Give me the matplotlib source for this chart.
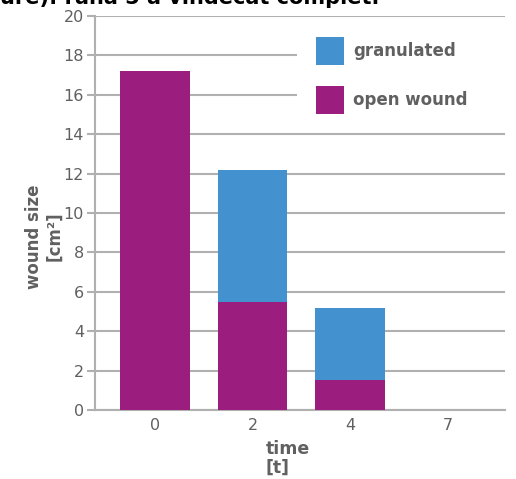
from matplotlib import pyplot as plt
from matplotlib.patches import Rectangle
import numpy as np

# wound size per time point
times = ["0", "2", "4", "7"]
open_wound = [17.2, 5.5, 1.5, 0.0]
granulated = [0.0, 6.7, 3.7, 0.0]
series_labels = ["granulated", "open wound"]

PURPLE = "#9b1e7e"
BLUE = "#4491d0"
GRID = "#b0b0b0"
TEXT = "#606060"
W, H = 516, 479

fig = plt.figure(figsize=(W / 100, H / 100), dpi=100)
ax = fig.add_axes([95 / W, 1 - 410 / H, 410 / W, 394 / H])

x = np.arange(len(times))
ax.bar(x, open_wound, width=0.71, color=PURPLE, zorder=3)
ax.bar(x, granulated, width=0.71, bottom=open_wound, color=BLUE, zorder=3)

ax.set_ylim(0, 20)
ax.set_xlim(-0.615, 3.59)
ax.set_yticks(range(0, 21, 2))
ax.set_xticks(x)
ax.set_xticklabels(times)

ax.yaxis.grid(True, color=GRID, linewidth=1.5, zorder=0)
ax.set_axisbelow(True)
for side in ("top", "right"):
    ax.spines[side].set_visible(False)
for side in ("left", "bottom"):
    ax.spines[side].set_color(GRID)
    ax.spines[side].set_linewidth(1.5)
ax.tick_params(axis="y", colors=GRID, length=6, width=1.5, labelcolor=TEXT,
               labelsize=11.5, pad=2)
ax.tick_params(axis="x", length=0, labelcolor=TEXT, labelsize=11.5, pad=6)

ax.set_ylabel("wound size\n[cm²]", fontsize=12, fontweight="bold",
              color=TEXT, linespacing=1.15)
ax.yaxis.set_label_coords(-0.078, 0.44)
ax.set_xlabel("time\n[t]", fontsize=12.5, fontweight="bold", color=TEXT,
              linespacing=1.1, multialignment="left")
ax.xaxis.set_label_coords(0.471, -0.075)


def px(xp, yp):
    # pixel position from the top-left corner -> figure fraction
    return xp / W, 1 - yp / H


# legend: white panel over the grid, square swatches and bold labels
fig.patches.append(Rectangle(px(297, 125), (W - 297) / W, 100 / H,
                             transform=fig.transFigure, facecolor="white",
                             edgecolor="none", zorder=5))
for i, (lab, col) in enumerate(zip(series_labels, [BLUE, PURPLE])):
    top = 37 + i * 49
    fig.patches.append(Rectangle(px(316, top + 28), 28 / W, 28 / H,
                                 transform=fig.transFigure, facecolor=col,
                                 edgecolor="none", zorder=6))
    fig.text(*px(353, top + 14), lab, fontsize=12, fontweight="bold",
             color=TEXT, va="center", ha="left", zorder=7)

fig.text(0.0, 1 - 4.5 / H, "ure): rană 5 a vindecat complet.",
         fontsize=15, fontweight="bold", color="black", va="baseline")

fig.savefig("out.png", dpi=100)
